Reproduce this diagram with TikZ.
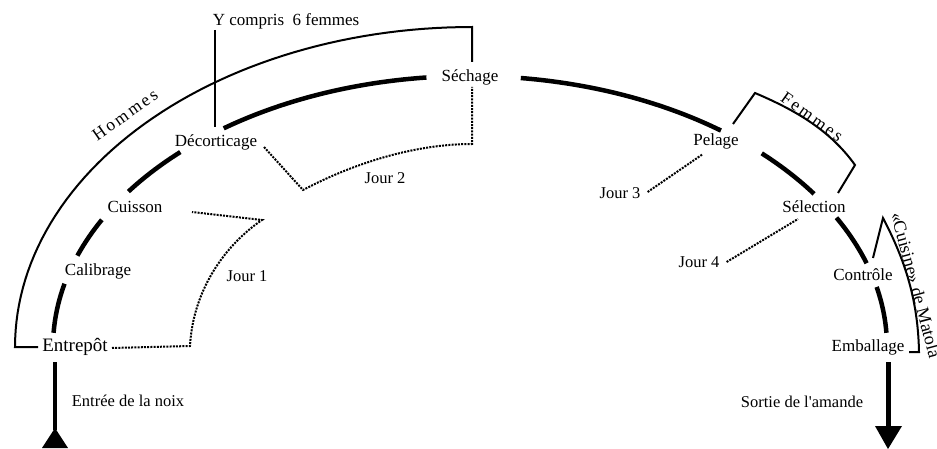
\documentclass[tikz,border=0pt]{standalone}
\usepackage{fontspec}
\setmainfont{Liberation Serif}
\newcommand\flowarc[2]{\draw[flow] plot[domain=#1:#2, samples=40] ({470+417*cos(\x)},{347-271*sin(\x)});}
\begin{document}
\begin{tikzpicture}[x=1pt,y=-1pt,
  station/.style={font=\fontsize{17}{20}\selectfont, inner sep=1pt},
  lbl/.style={font=\fontsize{16.5}{20}\selectfont, inner sep=1pt},
  spaced/.style={font=\fontsize{17.5}{20}\selectfont\addfontfeature{LetterSpace=14}, inner sep=1pt},
  flow/.style={line width=4.5pt},
  bracket/.style={line width=2pt},
  dots/.style={line width=2pt, dash pattern=on 2pt off 1.2pt}]
\useasboundingbox (0,0) rectangle (937,449);
% stations
\node[station, font=\fontsize{19}{22}\selectfont] (entrepot) at (75,347) {Entrepôt};
\node[station] (calibrage) at (98,271) {Calibrage};
\node[station] (cuisson) at (135,207) {Cuisson};
\node[station] (decort) at (216,142) {Décorticage};
\node[station] (sechage) at (470,77) {Séchage};
\node[station] (pelage) at (716,141) {Pelage};
\node[station] (selection) at (814,207) {Sélection};
\node[station] (controle) at (863,275) {Contrôle};
\node[station] (emballage) at (868,347) {Emballage};
% flow arcs
\flowarc{177}{166.5}
\flowarc{160.3}{152}
\flowarc{145}{134}
\flowarc{126.2}{96}
\flowarc{83}{53}
\flowarc{45.6}{34.4}
\flowarc{28.5}{18}
\flowarc{12.8}{3}
% entry / exit
\node[lbl] (entree) at (128,401) {Entrée de la noix};
\node[lbl] (sortie) at (802,402) {Sortie de l\textquotesingle amande};
\coordinate (inbase) at (55,430);
\coordinate (outtip) at (888,449);
\draw[line width=4.5pt] (55,362) -- (inbase);
\fill (42,448) -- (55,428) -- (68,448) -- cycle;
\draw[line width=5pt] (888,362) -- (888,428);
\fill (875,426) -- (902,426) -- (outtip) -- cycle;
% Hommes bracket
\draw[bracket] (38,347) -- (15,347) -- plot[domain=180:90, samples=60] ({472+457*cos(\x)},{347-320*sin(\x)}) -- (472,62);
\node[spaced, rotate=35] (hommes) at (125,115) {Hommes};
% Y compris
\node[station] (ycompris) at (286,21) {Y compris\ \ 6 femmes};
\draw[line width=1.6pt] (215,30) -- (215,127);
% Femmes bracket
\draw[bracket] (733,124) -- (755,93) .. controls (795,110) and (830,130) .. (855,165) -- (838,193);
\node[spaced, rotate=-35.5] (femmes) at (812,117) {Femmes};
% Cuisine de Matola bracket
\draw[bracket] (873,258) -- (883,218) .. controls (905,260) and (918,300) .. (919,352) -- (909,352);
\node[font=\fontsize{18}{20}\selectfont, inner sep=0.5pt, rotate=-75] (matola) at (916,285) {«Cuisine» de Matola};
% days
\draw[dots] (112,348) -- (190,346) .. controls (193,290) and (225,245) .. (262,220) -- (192,212);
\node[lbl] (jour1) at (247,276) {Jour 1};
\draw[dots] (264,147) -- (303,190) .. controls (360,160) and (420,144) .. (472,144) -- (472,87);
\node[lbl] (jour2) at (385,178) {Jour 2};
\node[lbl] (jour3) at (620,193) {Jour 3};
\draw[dots] (jour3.east) ++(6,-1) -- (703,154);
\node[lbl] (jour4) at (699,262) {Jour 4};
\draw[dots] (jour4.east) ++(6,0) -- (798,219);
\end{tikzpicture}
\end{document}
